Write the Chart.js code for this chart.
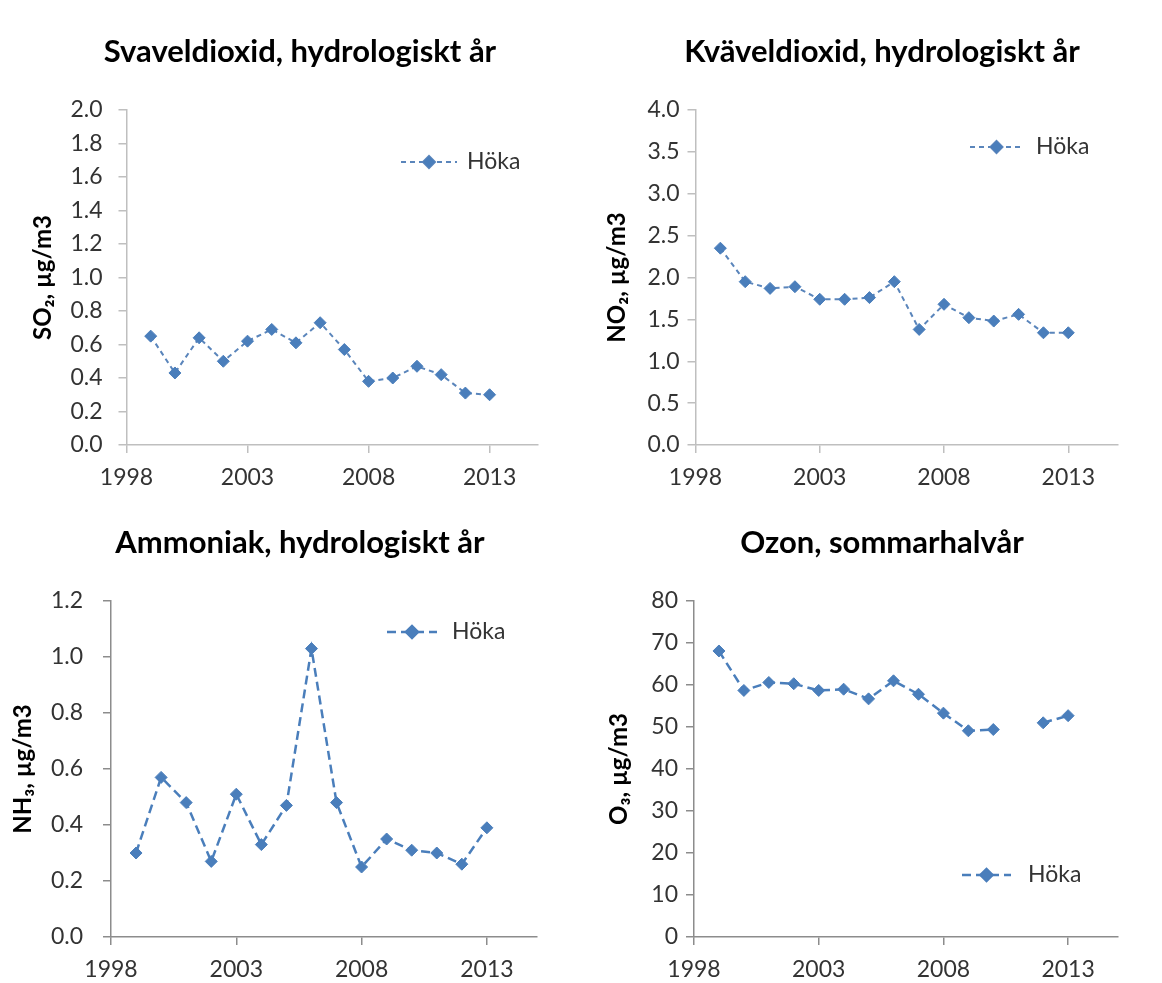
<!DOCTYPE html>
<html lang="sv">
<head>
<meta charset="utf-8">
<title>Höka – luftkvalitet</title>
<script src="https://cdn.jsdelivr.net/npm/chart.js@4.4.1/dist/chart.umd.min.js"></script>
<style>
  html, body { margin: 0; padding: 0; background: #fff; }
  #grid { position: relative; width: 1162px; height: 983px; }
  .panel { position: absolute; }
</style>
</head>
<body>
<div id="grid">
  <div class="panel" style="left:0;top:0;width:581px;height:491px"><canvas id="so2"></canvas></div>
  <div class="panel" style="left:581px;top:0;width:581px;height:491px"><canvas id="no2"></canvas></div>
  <div class="panel" style="left:0;top:491px;width:581px;height:492px"><canvas id="nh3"></canvas></div>
  <div class="panel" style="left:581px;top:491px;width:581px;height:492px"><canvas id="o3"></canvas></div>
</div>
<script>
// Data (avläst ur diagrammen)
const years = [1999, 2000, 2001, 2002, 2003, 2004, 2005, 2006, 2007, 2008, 2009, 2010, 2011, 2012, 2013];
const xTicks = [1998, 2003, 2008, 2013];
const stationLabel = 'Höka';

const so2Values = [0.65, 0.43, 0.64, 0.50, 0.62, 0.69, 0.61, 0.73, 0.57, 0.38, 0.40, 0.47, 0.42, 0.31, 0.30];
const no2Values = [2.35, 1.95, 1.87, 1.89, 1.74, 1.74, 1.76, 1.95, 1.38, 1.68, 1.52, 1.48, 1.56, 1.34, 1.34];
const nh3Values = [0.30, 0.57, 0.48, 0.27, 0.51, 0.33, 0.47, 1.03, 0.48, 0.25, 0.35, 0.31, 0.30, 0.26, 0.39];
const o3Values  = [68.1, 58.7, 60.6, 60.3, 58.7, 59.0, 56.7, 61.0, 57.8, 53.3, 49.1, 49.4, null, 51.0, 52.7];

const FONT = 'Lato, "DejaVu Sans", sans-serif';
const BLUE = '#4a7ebb';
const TEXT = '#333333';

// Rubrik ritad på fast plats i panelen
const panelTitle = {
    id: 'panelTitle',
    afterDraw(chart, args, opts) {
        const ctx = chart.ctx;
        ctx.save();
        ctx.font = 'bold 31px ' + FONT;
        ctx.fillStyle = '#000';
        ctx.textAlign = 'center';
        ctx.textBaseline = 'middle';
        ctx.fillText(opts.text, opts.x, opts.y);
        ctx.restore();
    }
};

// Förklaring: streckad linje med romb + text
const markerLegend = {
    id: 'markerLegend',
    afterDraw(chart, args, opts) {
        const ds = chart.data.datasets[0];
        const ctx = chart.ctx;
        const x0 = opts.x, y = opts.y, len = opts.len;
        ctx.save();
        ctx.strokeStyle = ds.borderColor;
        ctx.lineWidth = ds.borderWidth;
        ctx.setLineDash(ds.borderDash);
        ctx.beginPath();
        ctx.moveTo(x0, y);
        ctx.lineTo(x0 + len, y);
        ctx.stroke();
        ctx.setLineDash([]);
        Chart.helpers.drawPoint(ctx, {
            pointStyle: 'rectRot', radius: ds.pointRadius, borderWidth: 1
        }, x0 + len / 2, y);
        ctx.fillStyle = ds.pointBackgroundColor;
        ctx.fill();
        ctx.font = '23px ' + FONT;
        ctx.fillStyle = TEXT;
        ctx.textAlign = 'left';
        ctx.textBaseline = 'middle';
        ctx.fillText(ds.label, x0 + len + opts.gap, y);
        ctx.restore();
    }
};

function makeChart(id, values, p) {
    const canvas = document.getElementById(id);
    const h = canvas.parentNode.clientHeight;
    const w = canvas.parentNode.clientWidth;
    return new Chart(canvas, {
        type: 'line',
        data: {
            datasets: [{
                label: stationLabel,
                data: years.map((x, i) => ({ x: x, y: values[i] })),
                borderColor: p.lineColor,
                borderWidth: p.lineWidth,
                borderDash: p.dash,
                pointStyle: 'rectRot',
                pointRadius: 6,
                pointBackgroundColor: BLUE,
                pointBorderColor: BLUE,
                pointBorderWidth: 1,
                spanGaps: false,
                tension: 0
            }]
        },
        options: {
            responsive: true,
            maintainAspectRatio: false,
            animation: false,
            layout: { padding: { left: 0, top: p.top, right: w - p.right, bottom: 0 } },
            plugins: {
                legend: { display: false },
                tooltip: { enabled: false },
                panelTitle: { text: p.title, x: p.titleX, y: 52 },
                markerLegend: { x: p.legX, y: p.legY, len: p.legLen, gap: p.legGap }
            },
            scales: {
                x: {
                    type: 'linear',
                    min: 1998,
                    max: 2015,
                    afterBuildTicks: s => { s.ticks = xTicks.map(v => ({ value: v })); },
                    afterFit: s => { s.height = h - p.bottom; },
                    grid: { drawOnChartArea: false, tickLength: 8, color: p.axis, lineWidth: 1.5 },
                    border: { color: p.axis, width: 1.5 },
                    ticks: {
                        autoSkip: false, maxRotation: 0, padding: 11,
                        color: TEXT, font: { family: FONT, size: 23 },
                        callback: v => String(v)
                    }
                },
                y: {
                    min: 0,
                    max: p.yMax,
                    afterFit: s => { s.width = p.axisX; },
                    grid: { drawOnChartArea: false, tickLength: 8, color: p.axis, lineWidth: 1.5 },
                    border: { color: p.axis, width: 1.5 },
                    ticks: {
                        stepSize: p.yStep, padding: p.tickPad,
                        color: TEXT, font: { family: FONT, size: 23 },
                        callback: v => v.toFixed(p.dec)
                    },
                    title: {
                        display: true, text: p.yTitle, color: '#000',
                        font: { family: FONT, size: 24, weight: 'bold' },
                        padding: { top: p.yTitleX - 14.4, bottom: 0 }
                    }
                }
            }
        },
        plugins: [panelTitle, markerLegend]
    });
}

makeChart('so2', so2Values, {
    title: 'Svaveldioxid, hydrologiskt år', titleX: 300, yTitle: 'SO₂, µg/m3', yTitleX: 43,
    axisX: 126.5, top: 110, bottom: 445, right: 538, tickPad: 16, yMax: 2, yStep: 0.2, dec: 1,
    legX: 401, legY: 162, legLen: 56, legGap: 10, dash: [5, 4], lineWidth: 2,
    lineColor: '#5a85bb', axis: '#bfbfbf'
});
makeChart('no2', no2Values, {
    title: 'Kväveldioxid, hydrologiskt år', titleX: 301, yTitle: 'NO₂, µg/m3', yTitleX: 36,
    axisX: 114.5, top: 110, bottom: 445, right: 537, tickPad: 8, yMax: 4, yStep: 0.5, dec: 1,
    legX: 389, legY: 147, legLen: 53, legGap: 13, dash: [5, 4], lineWidth: 2,
    lineColor: '#5a85bb', axis: '#bfbfbf'
});
makeChart('nh3', nh3Values, {
    title: 'Ammoniak, hydrologiskt år', titleX: 300, yTitle: 'NH₃, µg/m3', yTitleX: 23,
    axisX: 111, top: 110, bottom: 446, right: 537, tickPad: 20, yMax: 1.2, yStep: 0.2, dec: 1,
    legX: 387, legY: 141, legLen: 50, legGap: 15, dash: [9, 5], lineWidth: 2.5,
    lineColor: '#4a7ebb', axis: '#8c8c8c'
});
makeChart('o3', o3Values, {
    title: 'Ozon, sommarhalvår', titleX: 301, yTitle: 'O₃, µg/m3', yTitleX: 38,
    axisX: 113, top: 110, bottom: 446, right: 537, tickPad: 8, yMax: 80, yStep: 10, dec: 0,
    legX: 381, legY: 384, legLen: 49, legGap: 17, dash: [9, 5], lineWidth: 2.5,
    lineColor: '#4a7ebb', axis: '#8c8c8c'
});
</script>
</body>
</html>
